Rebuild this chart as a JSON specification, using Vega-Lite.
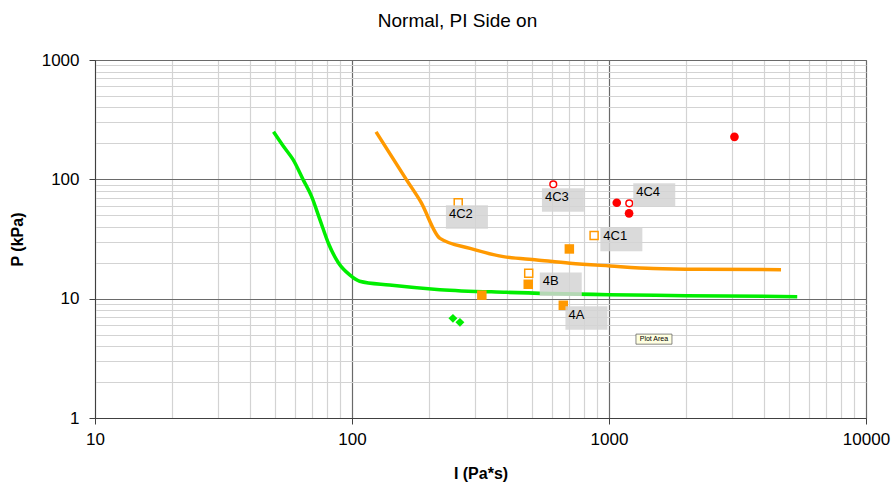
{
  "$schema": "https://vega.github.io/schema/vega-lite/v6.json",
  "width": 771,
  "height": 358,
  "autosize": {"type": "none"},
  "padding": {"left": 95, "top": 60, "right": 26, "bottom": 65},
  "background": "white",
  "config": {
    "view": {"stroke": "#707070", "strokeWidth": 1},
    "font": "Liberation Sans"
  },
  "title": {
    "text": "Normal, PI Side on",
    "font": "Liberation Sans",
    "fontSize": 19,
    "fontWeight": "normal",
    "color": "#000000",
    "dx": -23,
    "offset": 20
  },
  "datasets": {
    "curves": [
      {"series": "green", "I": 49.5, "P": 250},
      {"series": "green", "I": 54, "P": 190},
      {"series": "green", "I": 59, "P": 146},
      {"series": "green", "I": 64.6, "P": 99},
      {"series": "green", "I": 69.6, "P": 72},
      {"series": "green", "I": 75, "P": 46},
      {"series": "green", "I": 81, "P": 29},
      {"series": "green", "I": 88.5, "P": 20},
      {"series": "green", "I": 98, "P": 15.8},
      {"series": "green", "I": 107, "P": 14.0},
      {"series": "green", "I": 140, "P": 13.0},
      {"series": "green", "I": 220, "P": 11.9},
      {"series": "green", "I": 400, "P": 11.3},
      {"series": "green", "I": 1000, "P": 10.8},
      {"series": "green", "I": 2000, "P": 10.6},
      {"series": "green", "I": 5400, "P": 10.4},
      {"series": "orange", "I": 124, "P": 250},
      {"series": "orange", "I": 163, "P": 99},
      {"series": "orange", "I": 185, "P": 65},
      {"series": "orange", "I": 220, "P": 32},
      {"series": "orange", "I": 288, "P": 26.4},
      {"series": "orange", "I": 388, "P": 22.5},
      {"series": "orange", "I": 524, "P": 21.1},
      {"series": "orange", "I": 705, "P": 19.8},
      {"series": "orange", "I": 1009, "P": 18.8},
      {"series": "orange", "I": 1487, "P": 17.9},
      {"series": "orange", "I": 2258, "P": 17.6},
      {"series": "orange", "I": 4670, "P": 17.5}
    ],
    "pts": [
      {"kind": "orangeFilled", "I": 701, "P": 26.1},
      {"kind": "orangeFilled", "I": 485, "P": 13.2},
      {"kind": "orangeFilled", "I": 320, "P": 10.7},
      {"kind": "orangeFilled", "I": 664, "P": 8.8},
      {"kind": "orangeOpen", "I": 259, "P": 63.7},
      {"kind": "orangeOpen", "I": 875, "P": 33.9},
      {"kind": "orangeOpen", "I": 487, "P": 16.3},
      {"kind": "redFilled", "I": 1072, "P": 63.7},
      {"kind": "redFilled", "I": 1197, "P": 51.9},
      {"kind": "redFilled", "I": 3077, "P": 227},
      {"kind": "redOpen", "I": 607, "P": 90.8},
      {"kind": "redOpen", "I": 1199, "P": 62.9},
      {"kind": "greenDiamond", "I": 247, "P": 6.84},
      {"kind": "greenDiamond", "I": 263, "P": 6.33}
    ],
    "labels": [
      {"label": "4C2", "I": 280, "P": 48.3},
      {"label": "4C3", "I": 662, "P": 67.0},
      {"label": "4C4", "I": 1500, "P": 73.8},
      {"label": "4C1", "I": 1117, "P": 31.4},
      {"label": "4B", "I": 649, "P": 13.2},
      {"label": "4A", "I": 817, "P": 6.9}
    ],
    "tip": [
      {"label": "Plot Area", "I": 1496, "P": 4.58}
    ]
  },
  "encoding": {
    "x": {
      "field": "I",
      "type": "quantitative",
      "scale": {"type": "log", "domain": [10, 10000], "nice": false},
      "axis": {
        "title": "I (Pa*s)",
        "titleFont": "Liberation Sans",
        "titleFontSize": 16,
        "titleFontWeight": "bold",
        "titleColor": "#000000",
        "titlePadding": 18,
        "values": [10, 20, 30, 40, 50, 60, 70, 80, 90, 100, 200, 300, 400, 500, 600, 700, 800, 900, 1000, 2000, 3000, 4000, 5000, 6000, 7000, 8000, 9000, 10000],
        "format": "d",
        "labelExpr": "indexof([10,100,1000,10000], datum.value) >= 0 ? datum.label : ''",
        "labelFont": "Liberation Sans",
        "labelFontSize": 17,
        "labelColor": "#000000",
        "labelPadding": 7,
        "labelFlush": false,
        "labelOverlap": false,
        "domainColor": "#404040",
        "tickColor": "#404040",
        "tickSize": {"condition": {"test": "indexof([10,100,1000,10000], datum.value) >= 0", "value": 6}, "value": 0},
        "grid": true,
        "gridColor": {"condition": {"test": "indexof([10,100,1000,10000], datum.value) >= 0", "value": "#6a6a6a"}, "value": "#d3d3d3"},
        "gridWidth": 1.2
      }
    },
    "y": {
      "field": "P",
      "type": "quantitative",
      "scale": {"type": "log", "domain": [1, 1000], "nice": false},
      "axis": {
        "title": "P (kPa)",
        "titleFont": "Liberation Sans",
        "titleFontSize": 16,
        "titleFontWeight": "bold",
        "titleColor": "#000000",
        "titlePadding": 16,
        "values": [1, 2, 3, 4, 5, 6, 7, 8, 9, 10, 20, 30, 40, 50, 60, 70, 80, 90, 100, 200, 300, 400, 500, 600, 700, 800, 900, 1000],
        "format": "d",
        "labelExpr": "indexof([1,10,100,1000], datum.value) >= 0 ? datum.label : ''",
        "labelFont": "Liberation Sans",
        "labelFontSize": 17,
        "labelColor": "#000000",
        "labelPadding": 10,
        "labelFlush": false,
        "labelOverlap": false,
        "domainColor": "#404040",
        "tickColor": "#404040",
        "tickSize": {"condition": {"test": "indexof([1,10,100,1000], datum.value) >= 0", "value": 6}, "value": 0},
        "grid": true,
        "gridColor": {"condition": {"test": "indexof([1,10,100,1000], datum.value) >= 0", "value": "#6a6a6a"}, "value": "#d3d3d3"},
        "gridWidth": 1.2
      }
    }
  },
  "layer": [
    {
      "data": {"name": "curves"},
      "mark": {"type": "line", "strokeWidth": 3.5, "clip": true, "interpolate": "monotone"},
      "encoding": {
        "color": {
          "field": "series",
          "type": "nominal",
          "scale": {"domain": ["green", "orange"], "range": ["#00ee00", "#ff9900"]},
          "legend": null
        }
      }
    },
    {
      "data": {"name": "pts"},
      "transform": [{"filter": "datum.kind === 'orangeFilled'"}],
      "mark": {"type": "point", "shape": "square", "filled": true, "color": "#ff9900", "size": 90, "opacity": 1}
    },
    {
      "data": {"name": "pts"},
      "transform": [{"filter": "datum.kind === 'orangeOpen'"}],
      "mark": {"type": "point", "shape": "square", "filled": false, "stroke": "#ff9900", "fill": "white", "fillOpacity": 1, "strokeWidth": 1.5, "size": 64, "opacity": 1}
    },
    {
      "data": {"name": "pts"},
      "transform": [{"filter": "datum.kind === 'redFilled'"}],
      "mark": {"type": "point", "shape": "circle", "filled": true, "color": "#ff0000", "size": 75, "opacity": 1}
    },
    {
      "data": {"name": "pts"},
      "transform": [{"filter": "datum.kind === 'redOpen'"}],
      "mark": {"type": "point", "shape": "circle", "filled": false, "stroke": "#ff0000", "fill": "white", "fillOpacity": 1, "strokeWidth": 1.5, "size": 45, "opacity": 1}
    },
    {
      "data": {"name": "pts"},
      "transform": [{"filter": "datum.kind === 'greenDiamond'"}],
      "mark": {"type": "point", "shape": "diamond", "filled": true, "color": "#00ee00", "size": 80, "opacity": 1}
    },
    {
      "data": {"name": "labels"},
      "mark": {"type": "point", "shape": "M-1,-0.56H1V0.56H-1Z", "filled": true, "color": "#d4d4d4", "size": 1764, "opacity": 0.85, "strokeWidth": 0}
    },
    {
      "data": {"name": "labels"},
      "mark": {"type": "text", "align": "left", "baseline": "middle", "dx": -18, "dy": -3, "font": "Liberation Sans", "fontSize": 13, "color": "#000000"},
      "encoding": {"text": {"field": "label"}}
    },
    {
      "data": {"name": "tip"},
      "mark": {"type": "point", "shape": "M-1,-0.28H1V0.28H-1Z", "filled": false, "fill": "#ffffe1", "fillOpacity": 1, "stroke": "#555555", "strokeWidth": 0.7, "size": 1296, "opacity": 1}
    },
    {
      "data": {"name": "tip"},
      "mark": {"type": "text", "align": "center", "baseline": "middle", "font": "Liberation Sans", "fontSize": 7, "color": "#000000"},
      "encoding": {"text": {"field": "label"}}
    }
  ]
}
